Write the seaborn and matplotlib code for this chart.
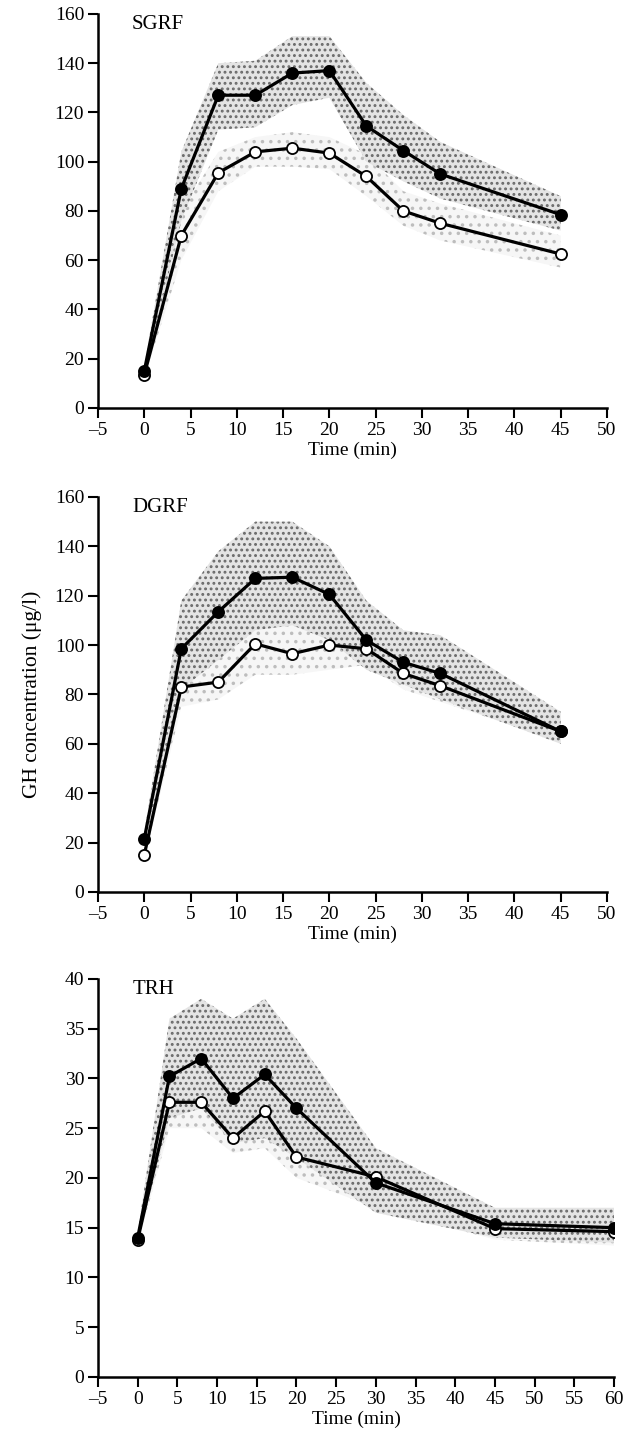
import numpy as np
import pandas as pd
import matplotlib
matplotlib.use("Agg")
import matplotlib.pyplot as plt
import seaborn as sns

# ---------------- data ----------------
sgrf_time = [0, 4, 8, 12, 16, 20, 24, 28, 32, 45]
sgrf_filled = [15, 89, 127, 127, 136, 137, 114.5, 104.5, 95, 78.5]
sgrf_open = [13.5, 70, 95.5, 104, 105.5, 103.5, 94, 80, 75, 62.5]
sgrf_filled_hi = [17, 104, 140, 141, 151, 151, 132, 119, 108, 86]
sgrf_filled_lo = [13, 76, 113, 114, 123, 126, 100, 92, 85, 72]
sgrf_open_hi = [15, 80, 104, 110, 112, 110, 103, 88, 83, 70]
sgrf_open_lo = [12, 60, 88, 98, 98, 97, 86, 74, 68, 57]

dgrf_time = [0, 4, 8, 12, 16, 20, 24, 28, 32, 45]
dgrf_filled = [21.5, 98.5, 113.5, 127, 127.5, 120.5, 102, 93, 88.5, 65]
dgrf_open = [15, 83, 85, 100.5, 96.5, 100, 98.5, 88.5, 83.5, 65]
dgrf_filled_hi = [24, 118, 138, 150, 150, 140, 118, 106, 104, 73]
dgrf_filled_lo = [19, 82, 94, 106, 108, 102, 90, 84, 78, 60]
dgrf_open_hi = [17, 90, 95, 110, 108, 108, 104, 95, 90, 70]
dgrf_open_lo = [13, 75, 78, 88, 88, 90, 92, 82, 77, 61]

trh_time = [0, 4, 8, 12, 16, 20, 30, 45, 60]
trh_filled = [14, 30.2, 32, 28, 30.4, 27, 19.5, 15.4, 15]
trh_open = [13.8, 27.6, 27.6, 24, 26.7, 22.1, 20.1, 14.9, 14.6]
trh_filled_hi = [14.5, 36, 38, 36, 38, 34, 23, 17, 17]
trh_filled_lo = [13.5, 26, 27, 23.5, 24, 22, 16.5, 14, 13.5]
trh_open_hi = [14.3, 30, 30, 27, 28, 25, 22, 16, 16]
trh_open_lo = [13.3, 25, 25, 22.5, 23, 20, 17, 13.8, 13.2]

panel_names = ["SGRF", "DGRF", "TRH"]
y_ticks_list = [list(range(0, 161, 20)), list(range(0, 161, 20)), list(range(0, 41, 5))]
x_ticks_list = [list(range(-5, 51, 5)), list(range(-5, 51, 5)), list(range(-5, 61, 5))]
x_label = "Time (min)"
y_label = "GH concentration (μg/l)"

# ---------------- style ----------------
sns.set_theme(style="ticks")
plt.rcParams["font.family"] = ["Liberation Serif", "DejaVu Serif"]
plt.rcParams["hatch.linewidth"] = 1.3

fig = plt.figure(figsize=(6.27, 14.4), dpi=100)
positions = [
    [0.1563, 0.7167, 0.8118, 0.2736],
    [0.1563, 0.3806, 0.8118, 0.2743],
    [0.1563, 0.0438, 0.8230, 0.2764],
]

panels = [
    (sgrf_time, sgrf_filled, sgrf_open, sgrf_filled_hi, sgrf_filled_lo, sgrf_open_hi, sgrf_open_lo),
    (dgrf_time, dgrf_filled, dgrf_open, dgrf_filled_hi, dgrf_filled_lo, dgrf_open_hi, dgrf_open_lo),
    (trh_time, trh_filled, trh_open, trh_filled_hi, trh_filled_lo, trh_open_hi, trh_open_lo),
]

tick_fs = 14
for i, (pos, pdata) in enumerate(zip(positions, panels)):
    t, yf, yo, fhi, flo, ohi, olo = pdata
    ax = fig.add_axes(pos)
    # SEM bands (stippled)
    ax.fill_between(t, olo, ohi, facecolor="#f6f6f6", edgecolor="#bdbdbd",
                    hatch="..", linewidth=0, zorder=1)
    ax.fill_between(t, flo, fhi, facecolor="#e4e4e4", edgecolor="#6a6a6a",
                    hatch="...", linewidth=0, zorder=2)
    df_o = pd.DataFrame({"t": t, "v": yo})
    df_f = pd.DataFrame({"t": t, "v": yf})
    sns.lineplot(data=df_o, x="t", y="v", ax=ax, color="black", lw=2.3,
                 marker="o", markersize=8, markerfacecolor="white",
                 markeredgecolor="black", markeredgewidth=1.3, zorder=4)
    sns.lineplot(data=df_f, x="t", y="v", ax=ax, color="black", lw=2.3,
                 marker="o", markersize=8, markerfacecolor="black",
                 markeredgecolor="black", markeredgewidth=1.3, zorder=5)

    xt = x_ticks_list[i]
    yt = y_ticks_list[i]
    ax.set_xlim(xt[0], xt[-1])
    ax.set_ylim(yt[0], yt[-1])
    ax.set_xticks(xt)
    ax.set_yticks(yt)
    ax.set_xticklabels([str(v).replace("-", "\u2013") for v in xt])
    ax.set_yticklabels([str(v) for v in yt])
    sns.despine(ax=ax)
    for s in ["left", "bottom"]:
        ax.spines[s].set_linewidth(1.8)
        ax.spines[s].set_color("black")
    ax.tick_params(axis="both", direction="out", length=7, width=1.5,
                   colors="black", labelsize=tick_fs, pad=3)
    ax.set_xlabel(x_label, fontsize=tick_fs, labelpad=2, color="black")
    ax.set_ylabel(y_label if i == 1 else "", fontsize=15.5, color="black", labelpad=9)
    ax.text(0.067, 0.998, panel_names[i], transform=ax.transAxes,
            ha="left", va="top", fontsize=15, color="black")
    for lab in ax.get_xticklabels() + ax.get_yticklabels():
        lab.set_color("black")

fig.savefig("out.png", dpi=100, facecolor="white")
